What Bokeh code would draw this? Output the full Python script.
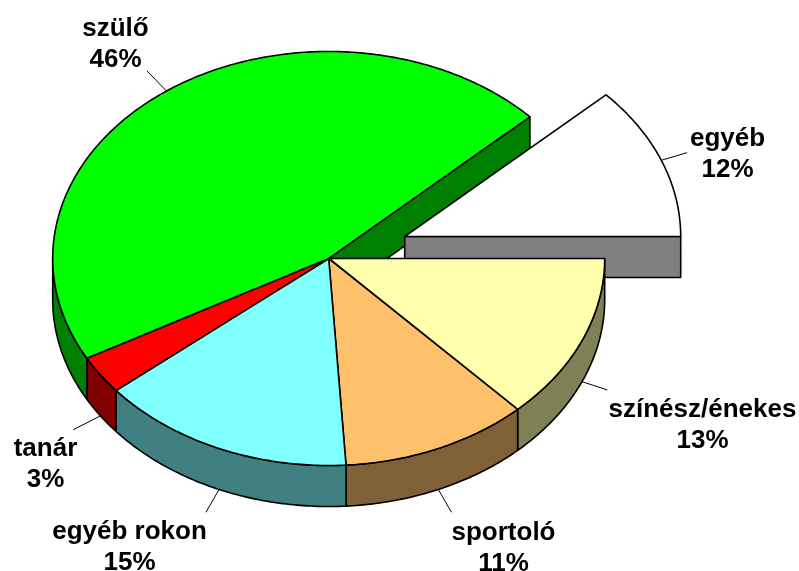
import numpy as np
from bokeh.plotting import figure
from bokeh.core.properties import value
from bokeh.embed import file_html
from bokeh.resources import INLINE

# data, clockwise from 3 o'clock
categories = ["színész/énekes", "sportoló", "egyéb rokon", "tanár", "szülő", "egyéb"]
shares = [13, 11, 15, 3, 46, 12]
top_colors = ["#FFFFAE", "#FFC06C", "#80FFFF", "#FF0000", "#00FF00", "#FFFFFF"]
rim_colors = ["#808057", "#806036", "#408080", "#800000", "#008000", "#808080"]

W, H = 799, 590
CX, CY, RX, RY, DEPTH = 328.2, 258, 276, 207, 41
EXPLODE_DX, EXPLODE_DY = 76, -22
LINE = 1.6
FONT = value("Liberation Sans")

p = figure(width=W, height=H, x_range=(0, W), y_range=(H, 0), output_backend="svg",
           toolbar_location=None, min_border=0, outline_line_color=None, background_fill_color="white")
p.axis.visible = False
p.grid.visible = False
p.styles = {"position": "fixed", "left": "0px", "top": "0px"}

edges = np.cumsum([0] + shares) / sum(shares) * 2 * np.pi


def ell(a, r=1.0, cx=CX, cy=CY):
    return cx + RX * r * np.cos(a), cy + RY * r * np.sin(a)


def arc(a0, a1, cx=CX, cy=CY):
    t = np.linspace(a0, a1, max(int((a1 - a0) * 80), 2))
    return ell(t, 1.0, cx, cy)


def poly(xs, ys, fill):
    p.patch(list(xs), list(ys), fill_color=fill, line_color="black", line_width=LINE, line_join="round")


# cut face of the big slice, behind the detached slice
i_big = categories.index("szülő")
ex, ey = ell(edges[i_big + 1])
poly([CX, ex, ex, CX], [CY, ey, ey + DEPTH, CY + DEPTH], rim_colors[i_big])

# detached slice
i_ex = categories.index("egyéb")
dcx, dcy = CX + EXPLODE_DX, CY + EXPLODE_DY
rx_end, ry_end = ell(0.0, 1.0, dcx, dcy)
poly([dcx, rx_end, rx_end, dcx], [dcy, ry_end, ry_end + DEPTH, dcy + DEPTH], rim_colors[i_ex])
ax, ay = arc(edges[i_ex], edges[i_ex + 1], dcx, dcy)
poly(np.r_[dcx, ax], np.r_[dcy, ay], top_colors[i_ex])

# rims of the front half
for i in range(5):
    a0, a1 = edges[i], min(edges[i + 1], np.pi)
    if a0 < a1:
        ax, ay = arc(a0, a1)
        poly(np.r_[ax, ax[::-1]], np.r_[ay, ay[::-1] + DEPTH], rim_colors[i])

# top faces
for i in range(5):
    ax, ay = arc(edges[i], edges[i + 1])
    poly(np.r_[CX, ax], np.r_[CY, ay], top_colors[i])

# leader lines
leader_reach = [1.10, 1.12, 1.12, 1.12, 1.12, 1.10]
for i, reach in enumerate(leader_reach):
    mid = (edges[i] + edges[i + 1]) / 2
    cx, cy = (dcx, dcy) if i == i_ex else (CX, CY)
    x0, y0 = ell(mid, 1.0, cx, cy)
    x1, y1 = ell(mid, reach, cx, cy)
    d = DEPTH if np.sin(mid) > 0 else 0
    p.line([x0, x1], [y0 + d, y1 + d], line_color="black", line_width=1)

# labels (centre of the two-line block)
label_x = [702, 503, 129, 45, 115, 727]
label_y = [423, 546, 545, 462, 42, 152]
for i, (lx, ly) in enumerate(zip(label_x, label_y)):
    p.text([lx], [ly - 15.5], text=[categories[i]], text_align="center", text_baseline="middle",
           text_font=FONT, text_font_style="bold", text_font_size="26px", text_color="black")
    p.text([lx], [ly + 15.5], text=[f"{shares[i]}%"], text_align="center", text_baseline="middle",
           text_font=FONT, text_font_style="bold", text_font_size="26px", text_color="black")

open("out.html", "w").write(file_html(p, INLINE))
